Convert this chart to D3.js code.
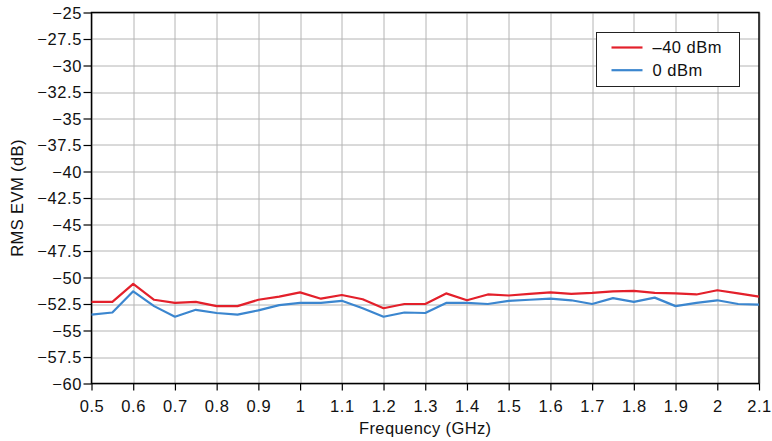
<!DOCTYPE html>
<html>
<head>
<meta charset="utf-8">
<script src="https://cdn.jsdelivr.net/npm/d3@7"></script>
<style>
  html, body { margin: 0; padding: 0; background: #fff; }
  svg { display: block; font-family: "Liberation Sans", Arial, Helvetica, sans-serif; }
</style>
</head>
<body>
<svg id="chart" width="772" height="441"></svg>
<script>
// Frequency sweep (GHz), one sample every 50 MHz
const frequencies = [0.5, 0.55, 0.6, 0.65, 0.7, 0.75, 0.8, 0.85, 0.9, 0.95,
  1.0, 1.05, 1.1, 1.15, 1.2, 1.25, 1.3, 1.35, 1.4, 1.45,
  1.5, 1.55, 1.6, 1.65, 1.7, 1.75, 1.8, 1.85, 1.9, 1.95,
  2.0, 2.05, 2.1];

// RMS EVM (dB) at -40 dBm input
const evmMinus40 = [-52.3, -52.3, -50.6, -52.1, -52.4, -52.3, -52.7, -52.7, -52.1, -51.8,
  -51.4, -52.0, -51.65, -52.05, -52.9, -52.5, -52.5, -51.5, -52.15, -51.6,
  -51.7, -51.55, -51.4, -51.55, -51.45, -51.3, -51.27, -51.45, -51.5, -51.6,
  -51.2, -51.5, -51.8];

// RMS EVM (dB) at 0 dBm input
const evm0 = [-53.5, -53.3, -51.3, -52.7, -53.7, -53.05, -53.35, -53.5, -53.1, -52.6,
  -52.4, -52.4, -52.2, -52.9, -53.7, -53.3, -53.35, -52.4, -52.4, -52.5,
  -52.2, -52.1, -52.0, -52.15, -52.5, -51.95, -52.3, -51.9, -52.7, -52.4,
  -52.15, -52.5, -52.55];

const xTicks = [0.5, 0.6, 0.7, 0.8, 0.9, 1.0, 1.1, 1.2, 1.3, 1.4, 1.5, 1.6, 1.7, 1.8, 1.9, 2.0, 2.1];
const yTicks = [-25, -27.5, -30, -32.5, -35, -37.5, -40, -42.5, -45, -47.5, -50, -52.5, -55, -57.5, -60];

const seriesNames = ["\u201340 dBm", "0 dBm"];
const seriesColors = ["#e3202b", "#3b86cf"];

const margin = { left: 91.5, right: 13, top: 12.5, bottom: 57.5 };
const W = 772, H = 441;
const innerW = W - margin.left - margin.right;
const innerH = H - margin.top - margin.bottom;

const svg = d3.select("#chart");
const g = svg.append("g").attr("transform", `translate(${margin.left},${margin.top})`);

const x = d3.scaleLinear().domain([0.5, 2.1]).range([0, innerW]);
const y = d3.scaleLinear().domain([-60, -25]).range([innerH, 0]);

const fmtNum = v => {
  const s = (Math.round(v * 10) / 10).toString();
  return s.replace("-", "\u2212");
};

// grid
g.append("g").selectAll("line").data(xTicks).join("line")
  .attr("x1", d => Math.round(x(d)) + 0.5).attr("x2", d => Math.round(x(d)) + 0.5)
  .attr("y1", 0).attr("y2", innerH)
  .attr("stroke", "#b4b4b4").attr("stroke-width", 1);
g.append("g").selectAll("line").data(yTicks).join("line")
  .attr("y1", d => Math.round(y(d)) + 0.5).attr("y2", d => Math.round(y(d)) + 0.5)
  .attr("x1", 0).attr("x2", innerW)
  .attr("stroke", "#b4b4b4").attr("stroke-width", 1);

// axes
const xAxis = d3.axisBottom(x).tickValues(xTicks).tickSize(7).tickSizeOuter(0)
  .tickFormat(d => fmtNum(d));
const yAxis = d3.axisLeft(y).tickValues(yTicks).tickSize(8).tickSizeOuter(0)
  .tickFormat(d => fmtNum(d));

const gx = g.append("g").attr("transform", `translate(0,${innerH})`).call(xAxis);
const gy = g.append("g").call(yAxis);
[gx, gy].forEach(a => {
  a.select(".domain").remove();
  a.selectAll(".tick line").attr("stroke", "#000").attr("stroke-width", 1.2);
  a.selectAll(".tick text").attr("fill", "#111")
    .style("font-size", "16.5px").style("letter-spacing", "0.6px");
});
gx.selectAll(".tick text").attr("dy", "0").attr("y", 28.5);
gy.selectAll(".tick text").attr("x", -9.5).attr("dy", "0.36em");

// frame
g.append("rect").attr("x", 0).attr("y", 0).attr("width", innerW).attr("height", innerH)
  .attr("fill", "none").attr("stroke", "#000").attr("stroke-width", 1.5);

// data lines
const line = d3.line().x((d, i) => x(frequencies[i])).y(d => y(d));
[evmMinus40, evm0].forEach((vals, k) => {
  g.append("path").datum(vals)
    .attr("d", line)
    .attr("fill", "none")
    .attr("stroke", seriesColors[k])
    .attr("stroke-width", 2.2)
    .attr("stroke-linejoin", "round");
});

// legend
const lg = svg.append("g").attr("transform", "translate(596.5,32.5)");
lg.append("rect").attr("width", 143).attr("height", 54)
  .attr("fill", "#fff").attr("stroke", "#222").attr("stroke-width", 1);
seriesNames.forEach((name, k) => {
  const yy = 15 + k * 22.7;
  lg.append("line").attr("x1", 15).attr("x2", 46).attr("y1", yy).attr("y2", yy)
    .attr("stroke", seriesColors[k]).attr("stroke-width", 2.2);
  lg.append("text").attr("x", 56).attr("y", yy).attr("dy", "0.36em")
    .attr("fill", "#111").style("font-size", "16.5px").style("letter-spacing", "0.5px")
    .text(name);
});

// axis titles
svg.append("text")
  .attr("x", margin.left + innerW / 2).attr("y", 434)
  .attr("text-anchor", "middle").attr("fill", "#111")
  .style("font-size", "16.5px").style("letter-spacing", "0.4px")
  .text("Frequency (GHz)");
svg.append("text")
  .attr("transform", `translate(23,${margin.top + innerH / 2}) rotate(-90)`)
  .attr("text-anchor", "middle").attr("fill", "#111")
  .style("font-size", "16.5px").style("letter-spacing", "0.4px")
  .text("RMS EVM (dB)");
</script>
</body>
</html>
